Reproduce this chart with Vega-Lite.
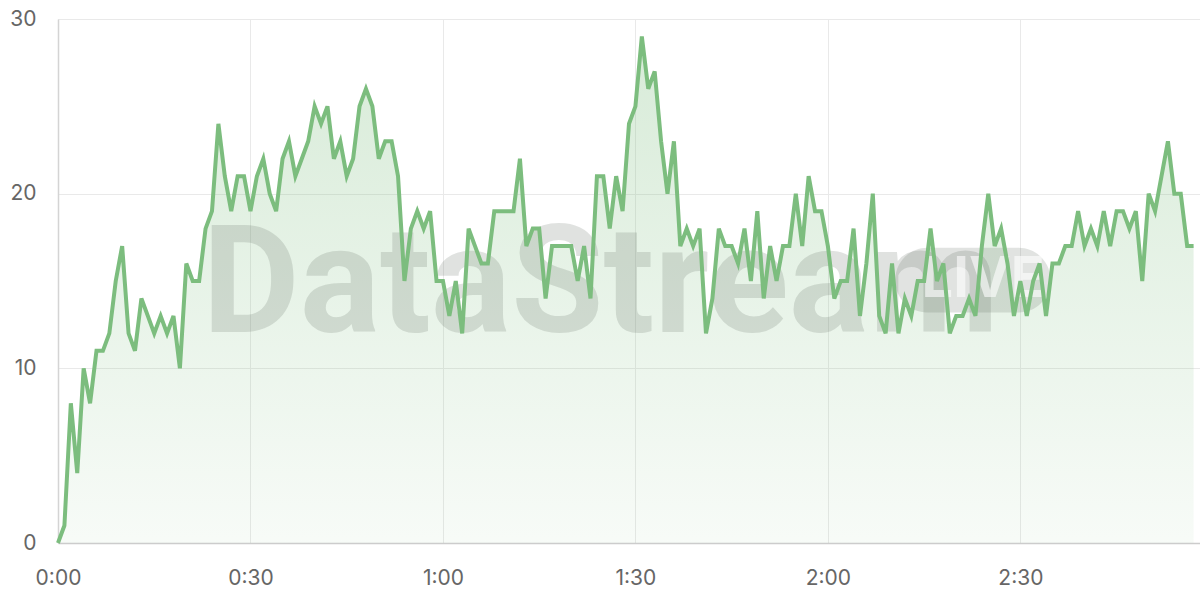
{
  "$schema": "https://vega.github.io/schema/vega-lite/v6.json",
  "width": 1142,
  "height": 524,
  "autosize": {"type": "none"},
  "padding": {"left": 58, "top": 19, "right": 0, "bottom": 57},
  "background": "white",
  "config": {"view": {"stroke": null}, "font": "Inter"},
  "datasets": {
    "series": [
      {"t":0,"v":0},{"t":1,"v":1},{"t":2,"v":8},{"t":3,"v":4},{"t":4,"v":10},{"t":5,"v":8},{"t":6,"v":11},{"t":7,"v":11},{"t":8,"v":12},{"t":9,"v":15},
      {"t":10,"v":17},{"t":11,"v":12},{"t":12,"v":11},{"t":13,"v":14},{"t":14,"v":13},{"t":15,"v":12},{"t":16,"v":13},{"t":17,"v":12},{"t":18,"v":13},{"t":19,"v":10},
      {"t":20,"v":16},{"t":21,"v":15},{"t":22,"v":15},{"t":23,"v":18},{"t":24,"v":19},{"t":25,"v":24},{"t":26,"v":21},{"t":27,"v":19},{"t":28,"v":21},{"t":29,"v":21},
      {"t":30,"v":19},{"t":31,"v":21},{"t":32,"v":22},{"t":33,"v":20},{"t":34,"v":19},{"t":35,"v":22},{"t":36,"v":23},{"t":37,"v":21},{"t":38,"v":22},{"t":39,"v":23},
      {"t":40,"v":25},{"t":41,"v":24},{"t":42,"v":25},{"t":43,"v":22},{"t":44,"v":23},{"t":45,"v":21},{"t":46,"v":22},{"t":47,"v":25},{"t":48,"v":26},{"t":49,"v":25},
      {"t":50,"v":22},{"t":51,"v":23},{"t":52,"v":23},{"t":53,"v":21},{"t":54,"v":15},{"t":55,"v":18},{"t":56,"v":19},{"t":57,"v":18},{"t":58,"v":19},{"t":59,"v":15},
      {"t":60,"v":15},{"t":61,"v":13},{"t":62,"v":15},{"t":63,"v":12},{"t":64,"v":18},{"t":65,"v":17},{"t":66,"v":16},{"t":67,"v":16},{"t":68,"v":19},{"t":69,"v":19},
      {"t":70,"v":19},{"t":71,"v":19},{"t":72,"v":22},{"t":73,"v":17},{"t":74,"v":18},{"t":75,"v":18},{"t":76,"v":14},{"t":77,"v":17},{"t":78,"v":17},{"t":79,"v":17},
      {"t":80,"v":17},{"t":81,"v":15},{"t":82,"v":17},{"t":83,"v":14},{"t":84,"v":21},{"t":85,"v":21},{"t":86,"v":18},{"t":87,"v":21},{"t":88,"v":19},{"t":89,"v":24},
      {"t":90,"v":25},{"t":91,"v":29},{"t":92,"v":26},{"t":93,"v":27},{"t":94,"v":23},{"t":95,"v":20},{"t":96,"v":23},{"t":97,"v":17},{"t":98,"v":18},{"t":99,"v":17},
      {"t":100,"v":18},{"t":101,"v":12},{"t":102,"v":14},{"t":103,"v":18},{"t":104,"v":17},{"t":105,"v":17},{"t":106,"v":16},{"t":107,"v":18},{"t":108,"v":15},{"t":109,"v":19},
      {"t":110,"v":14},{"t":111,"v":17},{"t":112,"v":15},{"t":113,"v":17},{"t":114,"v":17},{"t":115,"v":20},{"t":116,"v":17},{"t":117,"v":21},{"t":118,"v":19},{"t":119,"v":19},
      {"t":120,"v":17},{"t":121,"v":14},{"t":122,"v":15},{"t":123,"v":15},{"t":124,"v":18},{"t":125,"v":13},{"t":126,"v":16},{"t":127,"v":20},{"t":128,"v":13},{"t":129,"v":12},
      {"t":130,"v":16},{"t":131,"v":12},{"t":132,"v":14},{"t":133,"v":13},{"t":134,"v":15},{"t":135,"v":15},{"t":136,"v":18},{"t":137,"v":15},{"t":138,"v":16},{"t":139,"v":12},
      {"t":140,"v":13},{"t":141,"v":13},{"t":142,"v":14},{"t":143,"v":13},{"t":144,"v":17},{"t":145,"v":20},{"t":146,"v":17},{"t":147,"v":18},{"t":148,"v":16},{"t":149,"v":13},
      {"t":150,"v":15},{"t":151,"v":13},{"t":152,"v":15},{"t":153,"v":16},{"t":154,"v":13},{"t":155,"v":16},{"t":156,"v":16},{"t":157,"v":17},{"t":158,"v":17},{"t":159,"v":19},
      {"t":160,"v":17},{"t":161,"v":18},{"t":162,"v":17},{"t":163,"v":19},{"t":164,"v":17},{"t":165,"v":19},{"t":166,"v":19},{"t":167,"v":18},{"t":168,"v":19},{"t":169,"v":15},
      {"t":170,"v":20},{"t":171,"v":19},{"t":172,"v":21},{"t":173,"v":23},{"t":174,"v":20},{"t":175,"v":20},{"t":176,"v":17},{"t":177,"v":17}
    ],
    "one": [{"label": "DataStream", "badge": "LIVE"}]
  },
  "layer": [
    {
      "data": {"name": "series"},
      "mark": {
        "type": "area",
        "interpolate": "linear",
        "color": {
          "gradient": "linear",
          "x1": 0, "y1": 1, "x2": 0, "y2": 0,
          "stops": [
            {"offset": 0, "color": "rgba(124,189,126,0.06)"},
            {"offset": 1, "color": "rgba(124,189,126,0.30)"}
          ]
        }
      },
      "encoding": {
        "x": {
          "field": "t", "type": "quantitative",
          "scale": {"domain": [0, 178], "nice": false, "zero": false},
          "axis": {
            "title": null,
            "values": [0, 30, 60, 90, 120, 150],
            "labelExpr": "floor(datum.value/60) + ':' + (datum.value % 60 < 10 ? '0' : '') + (datum.value % 60)",
            "grid": true, "gridColor": "#e9e9e9", "gridWidth": 1,
            "ticks": false,
            "domain": true, "domainColor": "#cccccc", "domainWidth": 1.5,
            "labelFontSize": 21, "labelColor": "#666666",
            "labelPadding": 24, "labelFlush": false, "labelOverlap": false, "labelBound": false
          }
        },
        "y": {
          "field": "v", "type": "quantitative",
          "scale": {"domain": [0, 30], "nice": false},
          "axis": {
            "title": null,
            "values": [0, 10, 20, 30],
            "grid": true, "gridColor": "#e9e9e9", "gridWidth": 1,
            "ticks": false,
            "domain": true, "domainColor": "#d4d4d4", "domainWidth": 1.5,
            "labelFontSize": 21, "labelColor": "#666666",
            "labelPadding": 22, "labelBound": false, "labelFlush": false
          }
        }
      }
    },
    {
      "data": {"name": "one"},
      "mark": {"type": "text", "align": "left", "baseline": "alphabetic", "fontSize": 150, "fontWeight": "bold", "color": "rgba(90,100,90,0.19)", "font": "Roboto"},
      "encoding": {
        "x": {"datum": 22.5, "type": "quantitative"},
        "y": {"datum": 12.1, "type": "quantitative"},
        "text": {"field": "label"}
      }
    },
    {
      "data": {"name": "one"},
      "mark": {"type": "rect", "cornerRadius": 32, "color": "rgba(90,100,90,0.18)"},
      "encoding": {
        "x": {"datum": 130.5, "type": "quantitative"},
        "x2": {"datum": 154.7},
        "y": {"datum": 16.9, "type": "quantitative"},
        "y2": {"datum": 13.2}
      }
    },
    {
      "data": {"name": "one"},
      "mark": {"type": "text", "align": "center", "baseline": "middle", "fontSize": 56, "fontWeight": "bold", "color": "rgba(255,255,255,0.6)", "font": "Inter"},
      "encoding": {
        "x": {"datum": 144.2, "type": "quantitative"},
        "y": {"datum": 15.05, "type": "quantitative"},
        "text": {"field": "badge"}
      }
    },
    {
      "data": {"name": "series"},
      "mark": {"type": "line", "color": "#7cbd7e", "strokeWidth": 4, "interpolate": "linear"},
      "encoding": {
        "x": {"field": "t", "type": "quantitative"},
        "y": {"field": "v", "type": "quantitative"}
      }
    }
  ]
}
